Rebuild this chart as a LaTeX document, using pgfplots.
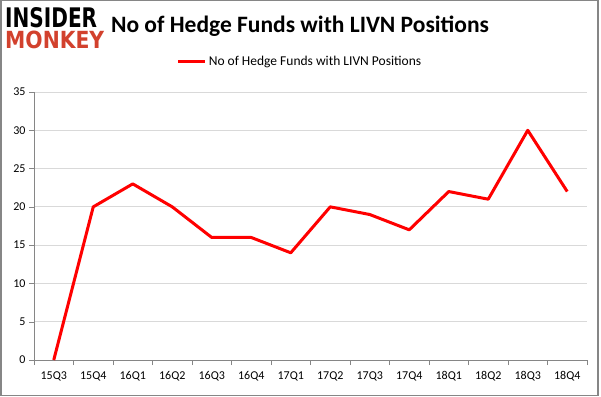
\documentclass[border=0pt]{standalone}
\usepackage{pgfplots}
\pgfplotsset{compat=1.18}
\usepackage{fontspec}
\setmainfont{Carlito}
\newfontfamily\logofont{DejaVu Sans}
\definecolor{logored}{RGB}{210,65,45}
\definecolor{gridgray}{RGB}{217,217,217}
\definecolor{axisgray}{RGB}{134,134,134}
\begin{document}
\begin{tikzpicture}[x=1pt,y=1pt]
\path[use as bounding box] (0,0) rectangle (601,396);
\draw[axisgray, line width=1.5pt] (0.75,0.75) rectangle (598,395.25);
\node[anchor=south west, inner sep=0] at (5,368) {\resizebox{92pt}{20pt}{\logofont\bfseries INSIDER}};
\node[anchor=south west, inner sep=0] at (5,347) {\resizebox{99pt}{17.5pt}{\color{logored}\logofont\bfseries MONKEY}};
\node[font=\fontsize{23.5}{28}\selectfont\bfseries] at (300,370) {No of Hedge Funds with LIVN Positions};
\begin{axis}[
  at={(34pt,36pt)}, anchor=south west,
  scale only axis, width=553pt, height=268pt,
  xmin=-0.5, xmax=13.5, ymin=0, ymax=35,
  ytick={0,5,...,35},
  xtick={0,...,13},
  xticklabels={15Q3,15Q4,16Q1,16Q2,16Q3,16Q4,17Q1,17Q2,17Q3,17Q4,18Q1,18Q2,18Q3,18Q4},
  minor xtick={-0.5,0.5,...,13.5},
  major x tick style={draw=none},
  minor x tick style={axisgray},
  y tick style={axisgray},
  tick align=outside,
  major tick length=5pt, minor tick length=5pt,
  axis x line*=bottom, axis y line*=left,
  axis line style={axisgray, line width=0.8pt, -},
  ymajorgrids, grid style={gridgray, line width=0.8pt},
  tick label style={font=\fontsize{12}{14}\selectfont},
  /pgf/number format/assume math mode=true,
  xticklabel style={yshift=-3pt},
  legend style={at={(0.481,1.112)}, anchor=center, draw=none, fill=none,
    font=\fontsize{13.5}{16}\selectfont},
  legend image code/.code={\draw[#1] (0pt,0pt) -- (27pt,0pt);},
]
\addplot[color=red, line width=3pt, line join=round] coordinates {
(0,0) (1,20) (2,23) (3,20) (4,16) (5,16) (6,14) (7,20) (8,19) (9,17) (10,22) (11,21) (12,30) (13,22)
};
\addlegendentry{No of Hedge Funds with LIVN Positions}
\end{axis}
\end{tikzpicture}
\end{document}
